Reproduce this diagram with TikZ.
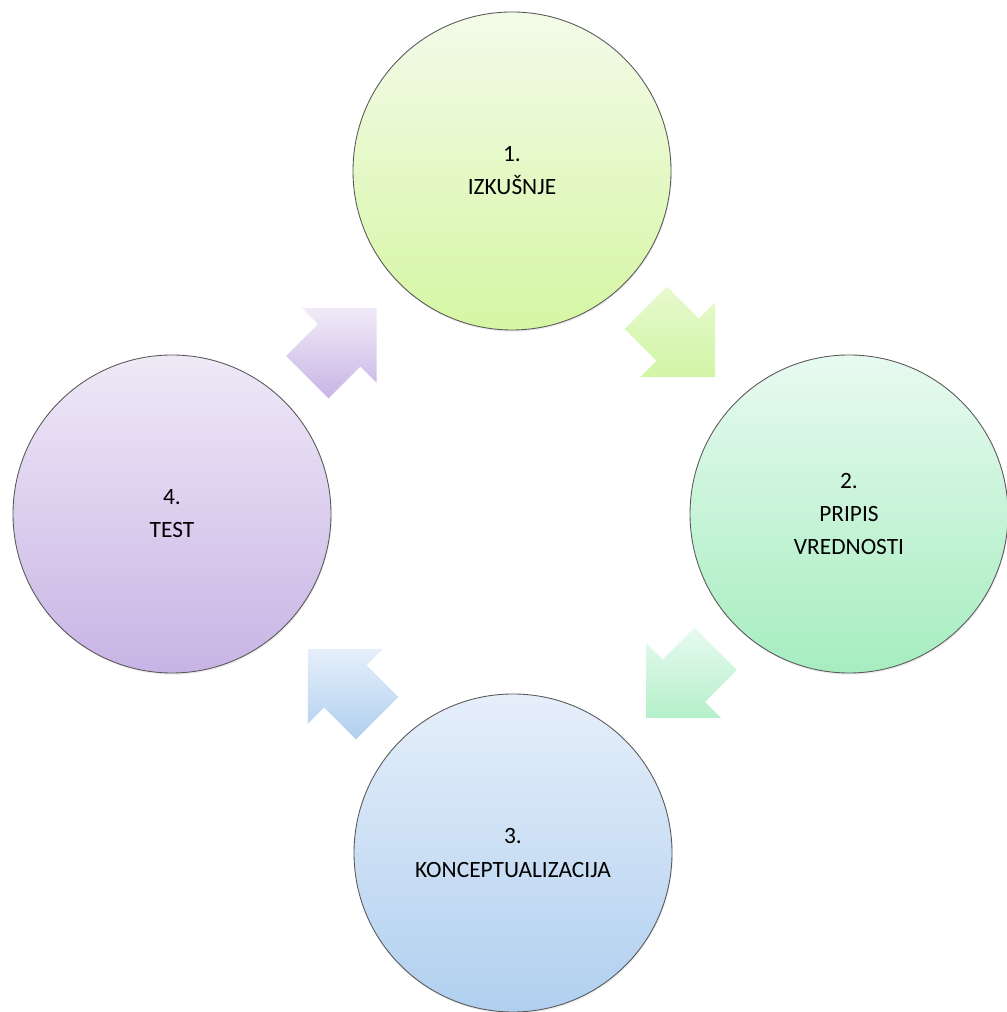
\documentclass[tikz,border=0pt]{standalone}
\usepackage{fontspec}
\setmainfont{Carlito}
\usepackage{tikz}
\usetikzlibrary{calc}
\usetikzlibrary{shadows}
\usepackage{xcolor}
\definecolor{gtop}{RGB}{243,251,234}
\definecolor{gbot}{RGB}{214,246,163}
\definecolor{mtop}{RGB}{232,250,240}
\definecolor{mbot}{RGB}{166,237,192}
\definecolor{btop}{RGB}{230,239,250}
\definecolor{bbot}{RGB}{176,207,239}
\definecolor{vtop}{RGB}{239,233,247}
\definecolor{vbot}{RGB}{200,180,229}

\begin{document}
\begin{tikzpicture}[
	c/.style = {circle, draw=black!65, line width=0.5pt, minimum size=6.36cm, inner sep=0pt, align=center,
		font=\fontsize{13.3}{18.8}\selectfont, drop shadow={opacity=0.15, shadow xshift=0.4pt, shadow yshift=-1pt}},
	g/.style = {c, top color=gtop, bottom color=gbot},
	m/.style = {c, top color=mtop, bottom color=mbot},
	bl/.style = {c, top color=btop, bottom color=bbot},
	v/.style = {c, top color=vtop, bottom color=vbot},
	ar/.style = {drop shadow={opacity=0.15, shadow xshift=0.6pt, shadow yshift=-0.8pt}},
	barrow/.pic = {\path[pic actions] (-0.98,0.6) -- (-0.08,0.6) -- (-0.08,1.06) -- (0.98,0)
		-- (-0.08,-1.06) -- (-0.08,-0.6) -- (-0.98,-0.6) -- cycle;}
	]
	\useasboundingbox (0,0) rectangle (20.12,20.24);
	
	% === === Nodes === ===
	\node[g]	(c1)	at	(10.24, 16.82)	{1.\\IZKUŠNJE};
	\node[m]	(c2)	at	(16.98, 9.96)	{2.\\PRIPIS\\VREDNOSTI};
	\node[bl]	(c3)	at	(10.26, 3.18)	{3.\\KONCEPTUALIZACIJA};
	\node[v]	(c4)	at	(3.44, 9.96)	{4.\\TEST};
	
	% === === Arrows === ===
	\pic[ar, top color=gtop!60!gbot, bottom color=gbot!90!mbot, rotate=-45]	at	($(c1)!0.5!(c2)$)	{barrow};
	\pic[ar, top color=mtop, bottom color=mbot!85, rotate=-135]	at	($(c2)!0.5!(c3)$)	{barrow};
	\pic[ar, top color=btop, bottom color=bbot, rotate=135]	at	($(c3)!0.5!(c4)$)	{barrow};
	\pic[ar, top color=vtop!90, bottom color=vbot, rotate=45]	at	($(c4)!0.5!(c1)$)	{barrow};
	
\end{tikzpicture}
\end{document}
